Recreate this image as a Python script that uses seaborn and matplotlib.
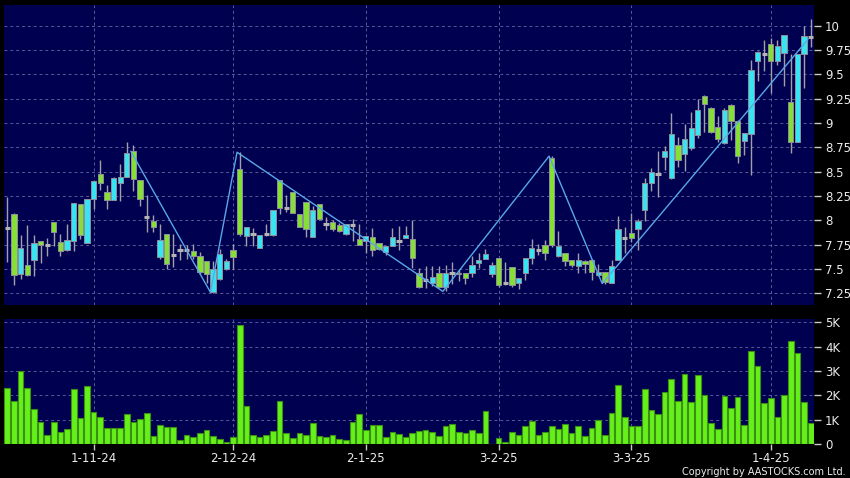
import numpy as np
import pandas as pd
import matplotlib
matplotlib.use("Agg")
import matplotlib.pyplot as plt
import seaborn as sns

# ---------------- data ----------------
opens = [7.92, 8.07, 7.45, 7.54, 7.59, 7.79, 7.75, 7.98, 7.78, 7.70,
         7.79, 8.17, 7.77, 8.22, 8.48, 8.29, 8.21, 8.38, 8.45, 8.71,
         8.41, 8.03, 7.99, 7.62, 7.86, 7.64, 7.70, 7.70, 7.68, 7.63,
         7.58, 7.26, 7.40, 7.50, 7.70, 8.53, 7.84, 7.86, 7.72, 7.86,
         7.85, 8.41, 8.13, 8.29, 8.07, 8.19, 7.83, 8.17, 7.96, 7.98,
         7.95, 7.86, 7.95, 7.81, 7.79, 7.83, 7.77, 7.67, 7.74, 7.79,
         7.82, 7.81, 7.46, 7.39, 7.36, 7.46, 7.32, 7.46, 7.45, 7.46,
         7.46, 7.56, 7.60, 7.45, 7.61, 7.36, 7.52, 7.36, 7.46, 7.61,
         7.70, 7.75, 8.64, 7.63, 7.66, 7.59, 7.53, 7.58, 7.59, 7.44,
         7.47, 7.36, 7.59, 7.82, 7.87, 7.91, 8.11, 8.38, 8.48, 8.65,
         8.43, 8.77, 8.68, 8.74, 8.88, 9.28, 9.15, 8.96, 8.79, 9.19,
         9.02, 8.82, 8.89, 9.64, 9.71, 9.81, 9.64, 9.72, 9.22, 8.80,
         9.71, 9.88]
highs = [8.24, 8.08, 7.85, 7.95, 7.85, 7.79, 7.82, 7.98, 7.86, 7.96,
         8.18, 8.17, 8.22, 8.40, 8.62, 8.36, 8.45, 8.58, 8.80, 8.77,
         8.41, 8.26, 8.05, 7.96, 7.86, 7.86, 7.76, 7.75, 7.76, 7.67,
         7.58, 7.58, 7.71, 7.60, 7.76, 8.70, 7.93, 7.92, 7.85, 7.96,
         8.11, 8.41, 8.26, 8.29, 8.07, 8.19, 8.15, 8.17, 8.03, 8.00,
         7.97, 7.96, 8.01, 7.96, 7.84, 7.92, 7.77, 7.74, 7.92, 7.94,
         7.94, 8.00, 7.51, 7.53, 7.53, 7.53, 7.54, 7.57, 7.50, 7.46,
         7.63, 7.66, 7.71, 7.57, 7.61, 7.57, 7.52, 7.41, 7.61, 7.81,
         7.76, 7.80, 8.66, 7.89, 7.66, 7.59, 7.66, 7.59, 7.60, 7.55,
         7.47, 7.59, 8.04, 7.93, 8.08, 8.01, 8.43, 8.54, 8.71, 8.76,
         9.10, 8.86, 8.99, 9.11, 9.25, 9.29, 9.16, 9.07, 9.15, 9.20,
         9.03, 8.90, 9.65, 9.74, 9.85, 9.87, 9.85, 9.90, 9.71, 9.71,
         10.00, 10.07]
lows = [7.57, 7.34, 7.40, 7.43, 7.43, 7.56, 7.63, 7.74, 7.63, 7.69,
        7.69, 7.81, 7.77, 8.12, 8.31, 8.12, 8.21, 8.20, 8.45, 8.30,
        8.15, 7.88, 7.88, 7.60, 7.50, 7.52, 7.59, 7.60, 7.60, 7.45,
        7.36, 7.25, 7.39, 7.49, 7.50, 7.84, 7.74, 7.74, 7.72, 7.84,
        7.84, 8.07, 8.09, 8.08, 7.93, 7.83, 7.83, 8.00, 7.90, 7.89,
        7.88, 7.85, 7.79, 7.75, 7.66, 7.63, 7.70, 7.64, 7.74, 7.70,
        7.82, 7.51, 7.30, 7.30, 7.33, 7.31, 7.27, 7.35, 7.38, 7.35,
        7.42, 7.51, 7.60, 7.42, 7.32, 7.34, 7.31, 7.29, 7.39, 7.55,
        7.64, 7.59, 7.73, 7.62, 7.53, 7.52, 7.46, 7.46, 7.39, 7.43,
        7.35, 7.36, 7.59, 7.66, 7.78, 7.70, 7.99, 8.30, 8.24, 8.52,
        8.42, 8.55, 8.51, 8.72, 8.85, 8.91, 8.90, 8.81, 8.78, 8.83,
        8.59, 8.67, 8.47, 9.43, 9.53, 9.31, 9.60, 9.38, 8.69, 8.80,
        9.36, 9.78]
closes = [7.92, 7.44, 7.72, 7.44, 7.77, 7.75, 7.75, 7.88, 7.68, 7.80,
          8.18, 7.85, 8.22, 8.40, 8.38, 8.21, 8.43, 8.45, 8.69, 8.42,
          8.22, 8.03, 7.93, 7.80, 7.55, 7.64, 7.70, 7.70, 7.63, 7.47,
          7.45, 7.50, 7.65, 7.58, 7.62, 7.86, 7.93, 7.86, 7.85, 7.86,
          8.11, 8.13, 8.13, 8.08, 7.93, 7.91, 8.11, 8.01, 7.96, 7.91,
          7.89, 7.96, 7.95, 7.75, 7.84, 7.70, 7.71, 7.74, 7.83, 7.79,
          7.85, 7.61, 7.31, 7.39, 7.42, 7.32, 7.46, 7.46, 7.46, 7.41,
          7.54, 7.59, 7.65, 7.54, 7.34, 7.36, 7.34, 7.41, 7.61, 7.72,
          7.70, 7.66, 7.75, 7.74, 7.58, 7.54, 7.59, 7.55, 7.47, 7.47,
          7.37, 7.53, 7.91, 7.82, 7.82, 7.99, 8.38, 8.50, 8.48, 8.71,
          8.89, 8.62, 8.84, 8.95, 9.13, 9.20, 8.91, 8.84, 9.13, 9.02,
          8.66, 8.90, 9.54, 9.73, 9.71, 9.64, 9.79, 9.90, 8.80, 9.71,
          9.89, 9.88]
volumes_k = [2.31, 1.76, 3.00, 2.31, 1.45, 0.92, 0.39, 0.90, 0.48, 0.63,
             2.25, 1.07, 2.40, 1.31, 1.13, 0.65, 0.67, 0.65, 1.23, 0.90,
             1.01, 1.28, 0.32, 0.79, 0.70, 0.70, 0.18, 0.39, 0.28, 0.47,
             0.56, 0.32, 0.22, 0.07, 0.29, 4.89, 1.58, 0.37, 0.30, 0.37,
             0.55, 1.78, 0.44, 0.26, 0.45, 0.39, 0.87, 0.33, 0.28, 0.39,
             0.22, 0.17, 0.92, 1.23, 0.59, 0.77, 0.79, 0.28, 0.51, 0.40,
             0.28, 0.44, 0.52, 0.58, 0.48, 0.34, 0.74, 0.81, 0.51, 0.44,
             0.59, 0.44, 1.35, 0.00, 0.23, 0.10, 0.48, 0.39, 0.72, 0.96,
             0.36, 0.51, 0.74, 0.61, 0.83, 0.45, 0.72, 0.32, 0.67, 0.99,
             0.37, 1.27, 2.44, 1.09, 0.76, 0.72, 2.25, 1.39, 1.24, 2.13,
             2.69, 1.75, 2.87, 1.71, 2.85, 2.02, 0.85, 0.62, 1.97, 1.50,
             1.93, 0.79, 3.82, 3.20, 1.67, 1.89, 1.10, 2.00, 4.23, 3.75,
             1.72, 0.88]

date_tick_idx = [13, 34, 54, 74, 94, 115]
date_tick_labels = ["1-11-24", "2-12-24", "2-1-25", "3-2-25", "3-3-25", "1-4-25"]

zigzag_idx = [19, 31, 35, 66, 82, 90, 121]
zigzag_price = [8.71, 7.26, 8.70, 7.27, 8.66, 7.35, 9.86]

price_ticks = [7.25, 7.5, 7.75, 8, 8.25, 8.5, 8.75, 9, 9.25, 9.5, 9.75, 10]
price_tick_labels = ["7.25", "7.5", "7.75", "8", "8.25", "8.5", "8.75", "9",
                     "9.25", "9.5", "9.75", "10"]
vol_ticks = [0, 1, 2, 3, 4, 5]
vol_tick_labels = ["0", "1K", "2K", "3K", "4K", "5K"]

copyright_text = "Copyright by AASTOCKS.com Ltd."

# ---------------- style ----------------
sns.set_theme(style="dark")
plt.rcParams["font.family"] = ["DejaVu Sans"]

BG = "#000050"
GRID = "#5a5a96"
UP = "#38e4f2"
DOWN = "#86df34"
EDGE = "#8f8f9a"
WICK = "#a0a0a8"
DOJI = "#b4b4b4"
VOL = "#66f01a"
VOL_EDGE = "#3a8f14"
ZZ = "#58a8e8"
TXT = "#ececec"

N = len(opens)
idx = np.arange(N)
df = pd.DataFrame({"idx": idx, "open": opens, "high": highs, "low": lows,
                   "close": closes, "vol": volumes_k})

fig = plt.figure(figsize=(8.5, 4.78), dpi=100, facecolor="black")
axp = fig.add_axes([4 / 850, 1 - 305 / 478, 810 / 850, 300 / 478])
axv = fig.add_axes([4 / 850, 1 - 444 / 478, 810 / 850, 125 / 478])

for ax in (axp, axv):
    ax.set_facecolor(BG)
    for s in ax.spines.values():
        s.set_visible(False)
    ax.set_xlim(-0.5, N - 0.5)
    ax.grid(True, color=GRID, linestyle=(0, (3, 3)), linewidth=0.7)
    ax.set_axisbelow(True)

# ---------------- price panel ----------------
body_w = 0.8
axp.vlines(df["idx"], df["low"], df["high"], color=WICK, linewidth=1.0, zorder=2)
up = df[df["close"] > df["open"]]
dn = df[df["close"] < df["open"]]
dj = df[df["close"] == df["open"]]
axp.bar(up["idx"], up["close"] - up["open"], bottom=up["open"], width=body_w,
        color=UP, edgecolor=EDGE, linewidth=0.7, zorder=3)
axp.bar(dn["idx"], dn["open"] - dn["close"], bottom=dn["close"], width=body_w,
        color=DOWN, edgecolor=EDGE, linewidth=0.7, zorder=3)
axp.hlines(dj["close"], dj["idx"] - body_w / 2, dj["idx"] + body_w / 2,
           color=DOJI, linewidth=2.2, zorder=3)

zz = pd.DataFrame({"x": np.array(zigzag_idx) - 0.4, "y": zigzag_price})
sns.lineplot(data=zz, x="x", y="y", ax=axp, color=ZZ, linewidth=1.0,
             sort=False, estimator=None, zorder=4)

axp.set_ylim(7.13, 10.213)
axp.yaxis.tick_right()
axp.set_yticks(price_ticks, price_tick_labels)
axp.set_xticks(date_tick_idx)
axp.tick_params(axis="x", length=0, labelbottom=False)
axp.tick_params(axis="y", which="both", right=True, left=False, length=5, width=1,
                color="#c8c8c8", labelcolor=TXT, labelsize=8.5, pad=3)
axp.set_xlabel("")
axp.set_ylabel("")

# ---------------- volume panel ----------------
sns.barplot(data=df, x="idx", y="vol", ax=axv, color=VOL, edgecolor=VOL_EDGE,
            linewidth=0.8, width=0.85, saturation=1, native_scale=True,
            errorbar=None, zorder=3)
axv.set_xlim(-0.5, N - 0.5)
axv.set_ylim(0, 5.14)
axv.yaxis.tick_right()
axv.set_yticks(vol_ticks, vol_tick_labels)
axv.set_xticks(date_tick_idx, date_tick_labels)
axv.tick_params(axis="y", right=True, left=False, length=5, width=1,
                color="#c8c8c8", labelcolor=TXT, labelsize=8.5, pad=3)
axv.tick_params(axis="x", bottom=True, length=4, width=1, color="#c8c8c8",
                labelcolor=TXT, labelsize=8.5, pad=1.5)
axv.set_xlabel("")
axv.set_ylabel("")

fig.text(846 / 850, 1 - 472 / 478, copyright_text, color=TXT, fontsize=7.0,
         ha="right", va="center")

fig.savefig("out.png", dpi=100, facecolor="black")
